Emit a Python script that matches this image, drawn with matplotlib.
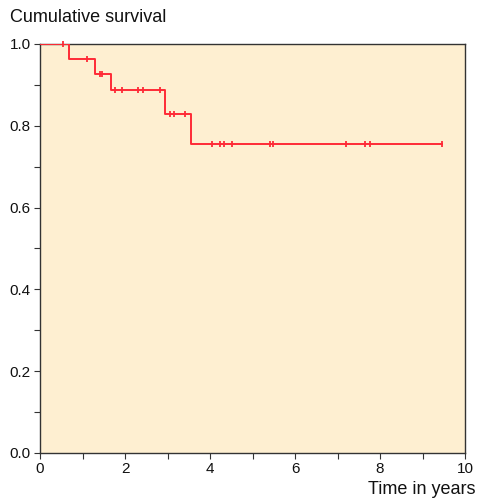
import numpy as np
import matplotlib
matplotlib.use("Agg")
import matplotlib.pyplot as plt
from matplotlib.ticker import MultipleLocator

plt.rcParams["font.family"] = ["Liberation Sans", "DejaVu Sans"]

# ── Kaplan-Meier estimate ───────────────────────────────────────────────────
event_times = [0.0, 0.68, 1.29, 1.67, 2.95, 3.55]
survival    = [1.0, 0.963, 0.926, 0.887, 0.830, 0.755]
censor_times = [0.54, 1.11, 1.40, 1.46, 1.77, 1.93, 2.31, 2.42, 2.82,
                3.07, 3.16, 3.41, 4.05, 4.24, 4.34, 4.51, 5.42, 5.48,
                7.20, 7.65, 7.76, 9.46]
end_time = 9.46

RED = "#ff2a36"
BG = "#feefd1"

fig = plt.figure(figsize=(4.78, 5.0), dpi=100)
ax = fig.add_axes([40/478, 47/500, 425/478, 409/500])
ax.set_facecolor(BG)

xs = event_times + [end_time]
ys = survival + [survival[-1]]
ax.step(xs, ys, where="post", color=RED, lw=1.4, zorder=3)

# censor marks sit on the current survival level
idx = np.searchsorted(event_times, censor_times, side="right") - 1
cy = [survival[i] for i in idx]
ax.plot(censor_times, cy, ls="none", marker="|", ms=4, mew=1.3, color=RED,
        zorder=4, clip_on=False)

ax.set_xlim(0, 10)
ax.set_ylim(0, 1.0)
ax.xaxis.set_major_locator(MultipleLocator(2))
ax.xaxis.set_minor_locator(MultipleLocator(1))
ax.yaxis.set_major_locator(MultipleLocator(0.2))
ax.yaxis.set_minor_locator(MultipleLocator(0.1))
ax.yaxis.set_major_formatter(plt.FormatStrFormatter("%.1f"))
ax.tick_params(which="both", direction="out", length=4.5, width=0.8, color="#333333")
ax.tick_params(which="major", labelsize=11, pad=2, labelcolor="#111111")
for s in ax.spines.values():
    s.set_color("#333333")
    s.set_linewidth(1.0)

fig.text(10/478, 1 - 17/500, "Cumulative survival", fontsize=13, color="#111111",
         ha="left", va="center")
fig.text(476/478, 1 - 490/500, "Time in years", fontsize=13, color="#111111",
         ha="right", va="center")

fig.savefig("out.png", dpi=100, facecolor="white")
